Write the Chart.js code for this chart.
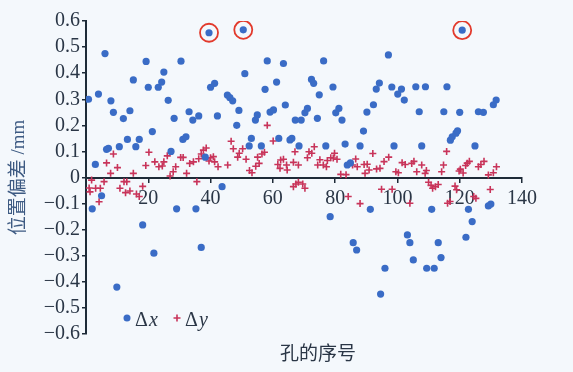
<!DOCTYPE html>
<html>
<head>
<meta charset="utf-8">
<script src="https://cdn.jsdelivr.net/npm/chart.js@4.4.1/dist/chart.umd.min.js"></script>
<style>
html, body { margin: 0; padding: 0; background: #f4f8fc; }
#wrap { width: 573px; height: 372px; }
</style>
</head>
<body>
<div id="wrap"><canvas id="chart" width="573" height="372"></canvas></div>
<script>
// hole number and position deviation in mm
const dxHole = [
    0.8, 2.0, 3.0, 4.0, 5.0, 6.1, 6.6, 7.2, 8.0, 8.8,
    9.9, 10.7, 12.0, 13.3, 14.1, 15.2, 16.0, 17.1, 18.2, 19.3,
    20.0, 21.3, 21.8, 23.2, 24.3, 25.0, 26.4, 27.3, 28.3, 29.1,
    30.5, 31.1, 32.1, 33.1, 34.3, 35.3, 36.2, 37.0, 38.3, 39.5,
    40.0, 41.3, 42.2, 43.7, 45.4, 46.2, 47.1, 48.4, 49.1, 50.5,
    51.0, 52.4, 53.1, 54.4, 55.0, 56.3, 57.5, 58.2, 59.1, 60.2,
    61.2, 61.9, 63.4, 64.0, 65.5, 66.1, 67.2, 68.4, 69.1, 70.3,
    71.1, 72.4, 73.1, 74.3, 74.9, 76.3, 77.0, 78.4, 79.3, 80.2,
    81.2, 82.2, 83.2, 83.9, 84.9, 85.8, 86.9, 88.0, 89.1, 90.2,
    91.3, 92.3, 93.2, 94.2, 94.6, 96.0, 97.1, 98.2, 98.9, 100.1,
    101.3, 102.2, 103.2, 104.0, 105.1, 105.9, 107.0, 107.8, 109.0, 109.4,
    111.0, 111.8, 113.1, 114.0, 114.9, 115.9, 117.0, 117.6, 118.8, 119.3,
    120.0, 120.8, 122.0, 122.8, 124.0, 124.9, 126.0, 127.6, 129.2, 130.0,
    130.8, 131.7
];
const dxValue = [
    0.30, -0.12, 0.05, 0.32, -0.07, 0.475, 0.108, 0.112, 0.294, 0.25,
    -0.42, 0.118, 0.226, 0.146, 0.256, 0.374, 0.118, 0.146, -0.182, 0.445,
    0.346, 0.176, -0.29, 0.346, 0.366, 0.404, 0.296, 0.10, 0.227, -0.12,
    0.446, 0.146, 0.156, 0.252, 0.22, -0.12, 0.236, -0.268, 0.078, 0.555,
    0.346, 0.361, 0.236, -0.035, 0.316, 0.306, 0.294, 0.20, 0.257, 0.566,
    0.398, 0.121, 0.15, 0.22, 0.24, 0.121, 0.338, 0.447, 0.251, 0.259,
    0.366, 0.15, 0.437, 0.278, 0.144, 0.15, 0.22, 0.121, 0.22, 0.248,
    0.265, 0.376, 0.361, 0.227, 0.317, 0.447, 0.121, -0.15, 0.347, 0.248,
    0.265, 0.22, 0.128, 0.048, 0.056, -0.25, -0.278, 0.121, 0.178, 0.251,
    -0.122, 0.279, 0.339, 0.362, -0.447, -0.348, 0.47, 0.347, 0.121, 0.32,
    0.339, 0.297, -0.22, -0.25, -0.316, 0.348, 0.252, 0.121, 0.348, -0.348,
    -0.122, -0.348, -0.25, -0.307, 0.252, 0.348, 0.143, 0.156, 0.17, 0.179,
    0.25, 0.565, -0.229, -0.122, -0.169, 0.121, 0.252, 0.25, -0.109, -0.102,
    0.279, 0.297
];
const dyHole = [
    1.0, 1.3, 1.8, 3.1, 4.2, 4.6, 5.8, 6.6, 7.9, 8.8,
    10.1, 10.9, 12.2, 12.7, 13.1, 14.1, 15.2, 16.2, 17.1, 18.2,
    19.2, 20.2, 22.1, 23.4, 24.5, 25.0, 26.1, 27.0, 28.0, 28.8,
    30.4, 31.2, 32.3, 33.3, 34.5, 35.6, 36.2, 37.0, 37.7, 38.6,
    39.5, 40.0, 40.9, 41.3, 42.4, 45.5, 46.6, 47.3, 48.7, 49.2,
    50.3, 51.4, 52.5, 53.3, 54.5, 55.1, 55.6, 56.5, 57.3, 58.2,
    60.1, 61.6, 62.3, 62.5, 63.4, 64.4, 64.6, 66.6, 67.1, 68.2,
    66.6, 67.4, 68.2, 69.6, 70.3, 71.1, 71.6, 72.5, 73.3, 74.4,
    75.1, 76.2, 77.2, 77.5, 78.6, 79.4, 79.8, 80.6, 81.8, 83.5,
    84.2, 85.6, 86.6, 87.1, 88.0, 89.3, 89.6, 90.3, 90.9, 92.1,
    93.3, 94.4, 94.9, 95.7, 97.2, 98.3, 99.5, 100.3, 101.5, 102.5,
    104.0, 104.6, 105.3, 106.2, 107.8, 108.9, 109.3, 110.0, 110.8, 111.3,
    112.2, 113.1, 114.2, 114.8, 115.8, 116.1, 116.9, 118.5, 119.0, 119.8,
    120.2, 121.1, 121.9, 122.4, 123.1, 124.5, 125.2, 126.0, 126.8, 127.8,
    129.2, 129.8, 130.8, 131.8
];
const dyValue = [
    -0.04, -0.055, -0.01, -0.041, -0.093, -0.041, -0.016, 0.056, 0.016, 0.09,
    0.038, -0.041, -0.016, -0.058, -0.016, -0.052, 0.016, -0.063, -0.073, -0.034,
    0.046, 0.097, 0.06, 0.041, 0.044, 0.06, 0.083, 0.006, 0.022, 0.041,
    0.077, 0.077, 0.016, 0.054, 0.06, -0.016, 0.072, 0.09, 0.105, 0.113,
    0.063, 0.076, 0.08, 0.06, 0.041, 0.048, 0.139, 0.11, 0.078, 0.093,
    0.11, 0.07, 0.027, 0.018, 0.043, 0.078, 0.054, 0.09, 0.097, 0.2,
    0.14, 0.05, 0.035, 0.067, 0.07, 0.048, 0.029, 0.058, 0.099, 0.048,
    -0.035, -0.025, -0.018, -0.025, -0.041, 0.076, 0.099, 0.093, 0.118, 0.048,
    0.068, 0.048, 0.041, 0.065, 0.076, 0.075, 0.093, 0.07, 0.012, 0.011,
    -0.073, 0.048, 0.071, 0.041, -0.1, 0.05, 0.016, 0.051, 0.029, 0.092,
    0.033, 0.035, -0.045, 0.061, 0.078, -0.045, 0.022, 0.018, 0.057, 0.05,
    -0.099, 0.054, 0.062, 0.022, 0.048, 0.016, 0.027, -0.018, -0.03, -0.041,
    -0.035, -0.027, 0.022, 0.048, 0.1, -0.099, -0.092, -0.033, -0.047, 0.025,
    0.032, 0.017, 0.046, 0.055, 0.062, -0.073, -0.08, 0.041, 0.05, 0.062,
    0.01, -0.046, 0.018, 0.041
];
// the three outliers ringed in red
const circledHoles = [39.5, 50.5, 120.8];

const xMin = 0, xMax = 140, xStep = 20;
const yMin = -0.6, yMax = 0.6, yStep = 0.1;

const blue = '#3a6cc6';
const red = '#c8345a';
const axisColor = '#1e2b38';
const textColor = '#2a3646';
const serif = '"Liberation Serif", "Noto Sans CJK SC", serif';

const dxPoints = dxHole.map((h, i) => ({ x: h, y: dxValue[i] }));
const dyPoints = dyHole.map((h, i) => ({ x: h, y: dyValue[i] }));
const ringPoints = circledHoles.map(h => ({ x: h, y: dxValue[dxHole.indexOf(h)] }));

// legend + x title drawn inside the plot, like the printed figure
const extras = {
    id: 'extras',
    afterDraw(chart) {
        const ctx = chart.ctx;
        ctx.save();
        ctx.fillStyle = blue;
        ctx.beginPath();
        ctx.arc(127, 318, 3.5, 0, Math.PI * 2);
        ctx.fill();
        ctx.strokeStyle = red;
        ctx.lineWidth = 1.6;
        Chart.helpers.drawPoint(ctx, { pointStyle: 'cross', radius: 3.5, borderWidth: 1.6 }, 177, 318);

        ctx.fillStyle = textColor;
        ctx.textBaseline = 'alphabetic';
        ctx.textAlign = 'left';
        ctx.font = '20px ' + serif;
        ctx.fillText('Δ', 135, 326);
        ctx.fillText('Δ', 185, 326);
        ctx.font = 'italic 20px ' + serif;
        ctx.fillText('x', 149, 326);
        ctx.fillText('y', 199, 326);

        ctx.font = '19px "Noto Sans CJK SC", sans-serif';
        ctx.textAlign = 'center';
        ctx.textBaseline = 'middle';
        ctx.fillText('孔的序号', 318, 353);
        ctx.restore();
    }
};

new Chart(document.getElementById('chart'), {
    type: 'scatter',
    data: {
        datasets: [{
            label: 'ring',
            data: ringPoints,
            pointStyle: 'circle',
            pointRadius: 9,
            pointBorderWidth: 1.8,
            pointBorderColor: '#e23a2c',
            pointBackgroundColor: 'rgba(0,0,0,0)'
        }, {
            label: 'Δx',
            data: dxPoints,
            pointStyle: 'circle',
            pointRadius: 3.6,
            pointBorderWidth: 0,
            pointBackgroundColor: blue
        }, {
            label: 'Δy',
            data: dyPoints,
            pointStyle: 'cross',
            pointRadius: 3.5,
            pointBorderWidth: 1.6,
            pointBorderColor: red
        }]
    },
    options: {
        responsive: false,
        animation: false,
        events: [],
        layout: { padding: { top: 21, right: 51, bottom: 38, left: 0 } },
        plugins: {
            legend: { display: false },
            tooltip: { enabled: false }
        },
        scales: {
            x: {
                type: 'linear',
                position: { y: 0 },
                min: xMin,
                max: xMax,
                grid: { display: true, drawOnChartArea: false, drawTicks: true, tickLength: 4, color: axisColor, lineWidth: 1.5 },
                border: { display: true, color: axisColor, width: 2 },
                ticks: {
                    stepSize: xStep,
                    autoSkip: false,
                    padding: 5,
                    color: textColor,
                    font: { family: serif, size: 20 },
                    maxRotation: 0,
                    callback: v => v === 0 ? '' : v
                }
            },
            y: {
                type: 'linear',
                position: 'left',
                min: yMin,
                max: yMax,
                afterFit: s => { s.width = 86; },
                grid: { display: true, drawOnChartArea: false, drawTicks: true, tickLength: 4, color: axisColor, lineWidth: 1.5 },
                border: { display: true, color: axisColor, width: 2 },
                ticks: {
                    stepSize: yStep,
                    autoSkip: false,
                    padding: 2,
                    color: textColor,
                    font: { family: serif, size: 20 },
                    callback: v => {
                        const r = Math.round(v * 10) / 10;
                        if (r === 0) return '0';
                        return (r < 0 ? '−' : '') + Math.abs(r).toFixed(1);
                    }
                },
                title: {
                    display: true,
                    text: '位置偏差 /mm',
                    color: '#3d5a82',
                    font: { family: serif, size: 19 },
                    padding: { top: 8, bottom: 0 }
                }
            }
        }
    },
    plugins: [extras]
});
</script>
</body>
</html>
